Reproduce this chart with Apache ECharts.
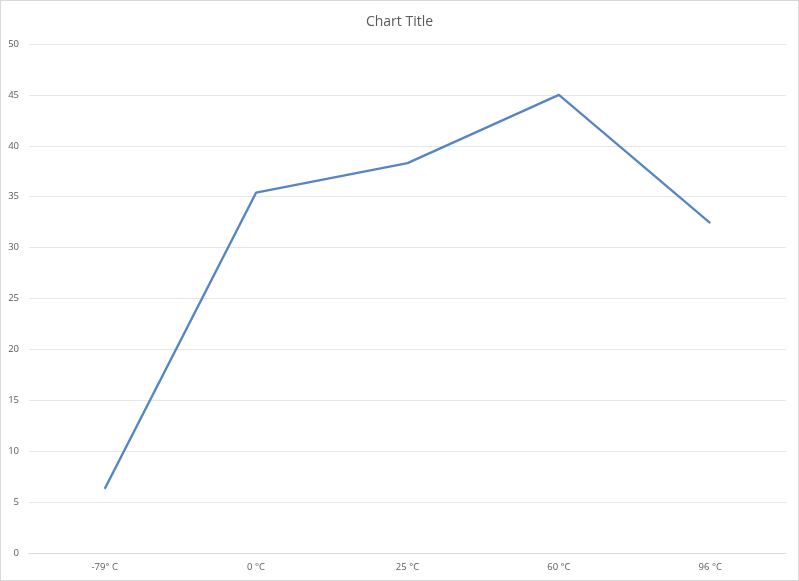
<!DOCTYPE html>
<html>
<head>
<meta charset="utf-8">
<script src="https://cdn.jsdelivr.net/npm/echarts@6/dist/echarts.min.js"></script>
<style>
  html, body { margin: 0; padding: 0; background: #fff; }
  #chart { width: 799px; height: 581px; box-sizing: border-box; border: 1px solid #d9d9d9; }
</style>
</head>
<body>
<div id="chart"></div>
<script>
// Temperatures along the x axis
const categories = ['-79° C', '0 °C', '25 °C', '60 °C', '96 °C'];
// Measured values at each temperature
const values = [6.3, 35.4, 38.3, 45.0, 32.4];
// Value axis range
const yMin = 0;
const yMax = 50;
const yStep = 5;

const chart = echarts.init(document.getElementById('chart'), null, { renderer: 'canvas' });
const textColor = '#595959';
const fontFamily = '"Open Sans", "Noto Sans", sans-serif';

chart.setOption({
  animation: false,
  title: {
    text: 'Chart Title',
    left: 'center',
    top: 9,
    textStyle: { color: textColor, fontSize: 14, fontWeight: 'normal', fontFamily: fontFamily }
  },
  grid: { left: 28, right: 12, top: 43, bottom: 27, containLabel: false },
  xAxis: {
    type: 'category',
    data: categories,
    boundaryGap: true,
    axisLine: { show: true, lineStyle: { color: '#d9d9d9', width: 1 } },
    axisTick: { show: false },
    axisLabel: { color: textColor, fontSize: 9.5, fontFamily: fontFamily, margin: 9 }
  },
  yAxis: {
    type: 'value',
    min: yMin,
    max: yMax,
    interval: yStep,
    axisLine: { show: false },
    axisTick: { show: false },
    axisLabel: { color: textColor, fontSize: 9.5, fontFamily: fontFamily, margin: 10 },
    splitLine: { show: true, lineStyle: { color: '#e6e6e6', width: 1 } }
  },
  series: [{
    type: 'line',
    data: values,
    symbol: 'none',
    lineStyle: { color: '#5585c3', width: 2.25 },
    itemStyle: { color: '#5585c3' }
  }]
});
</script>
</body>
</html>
